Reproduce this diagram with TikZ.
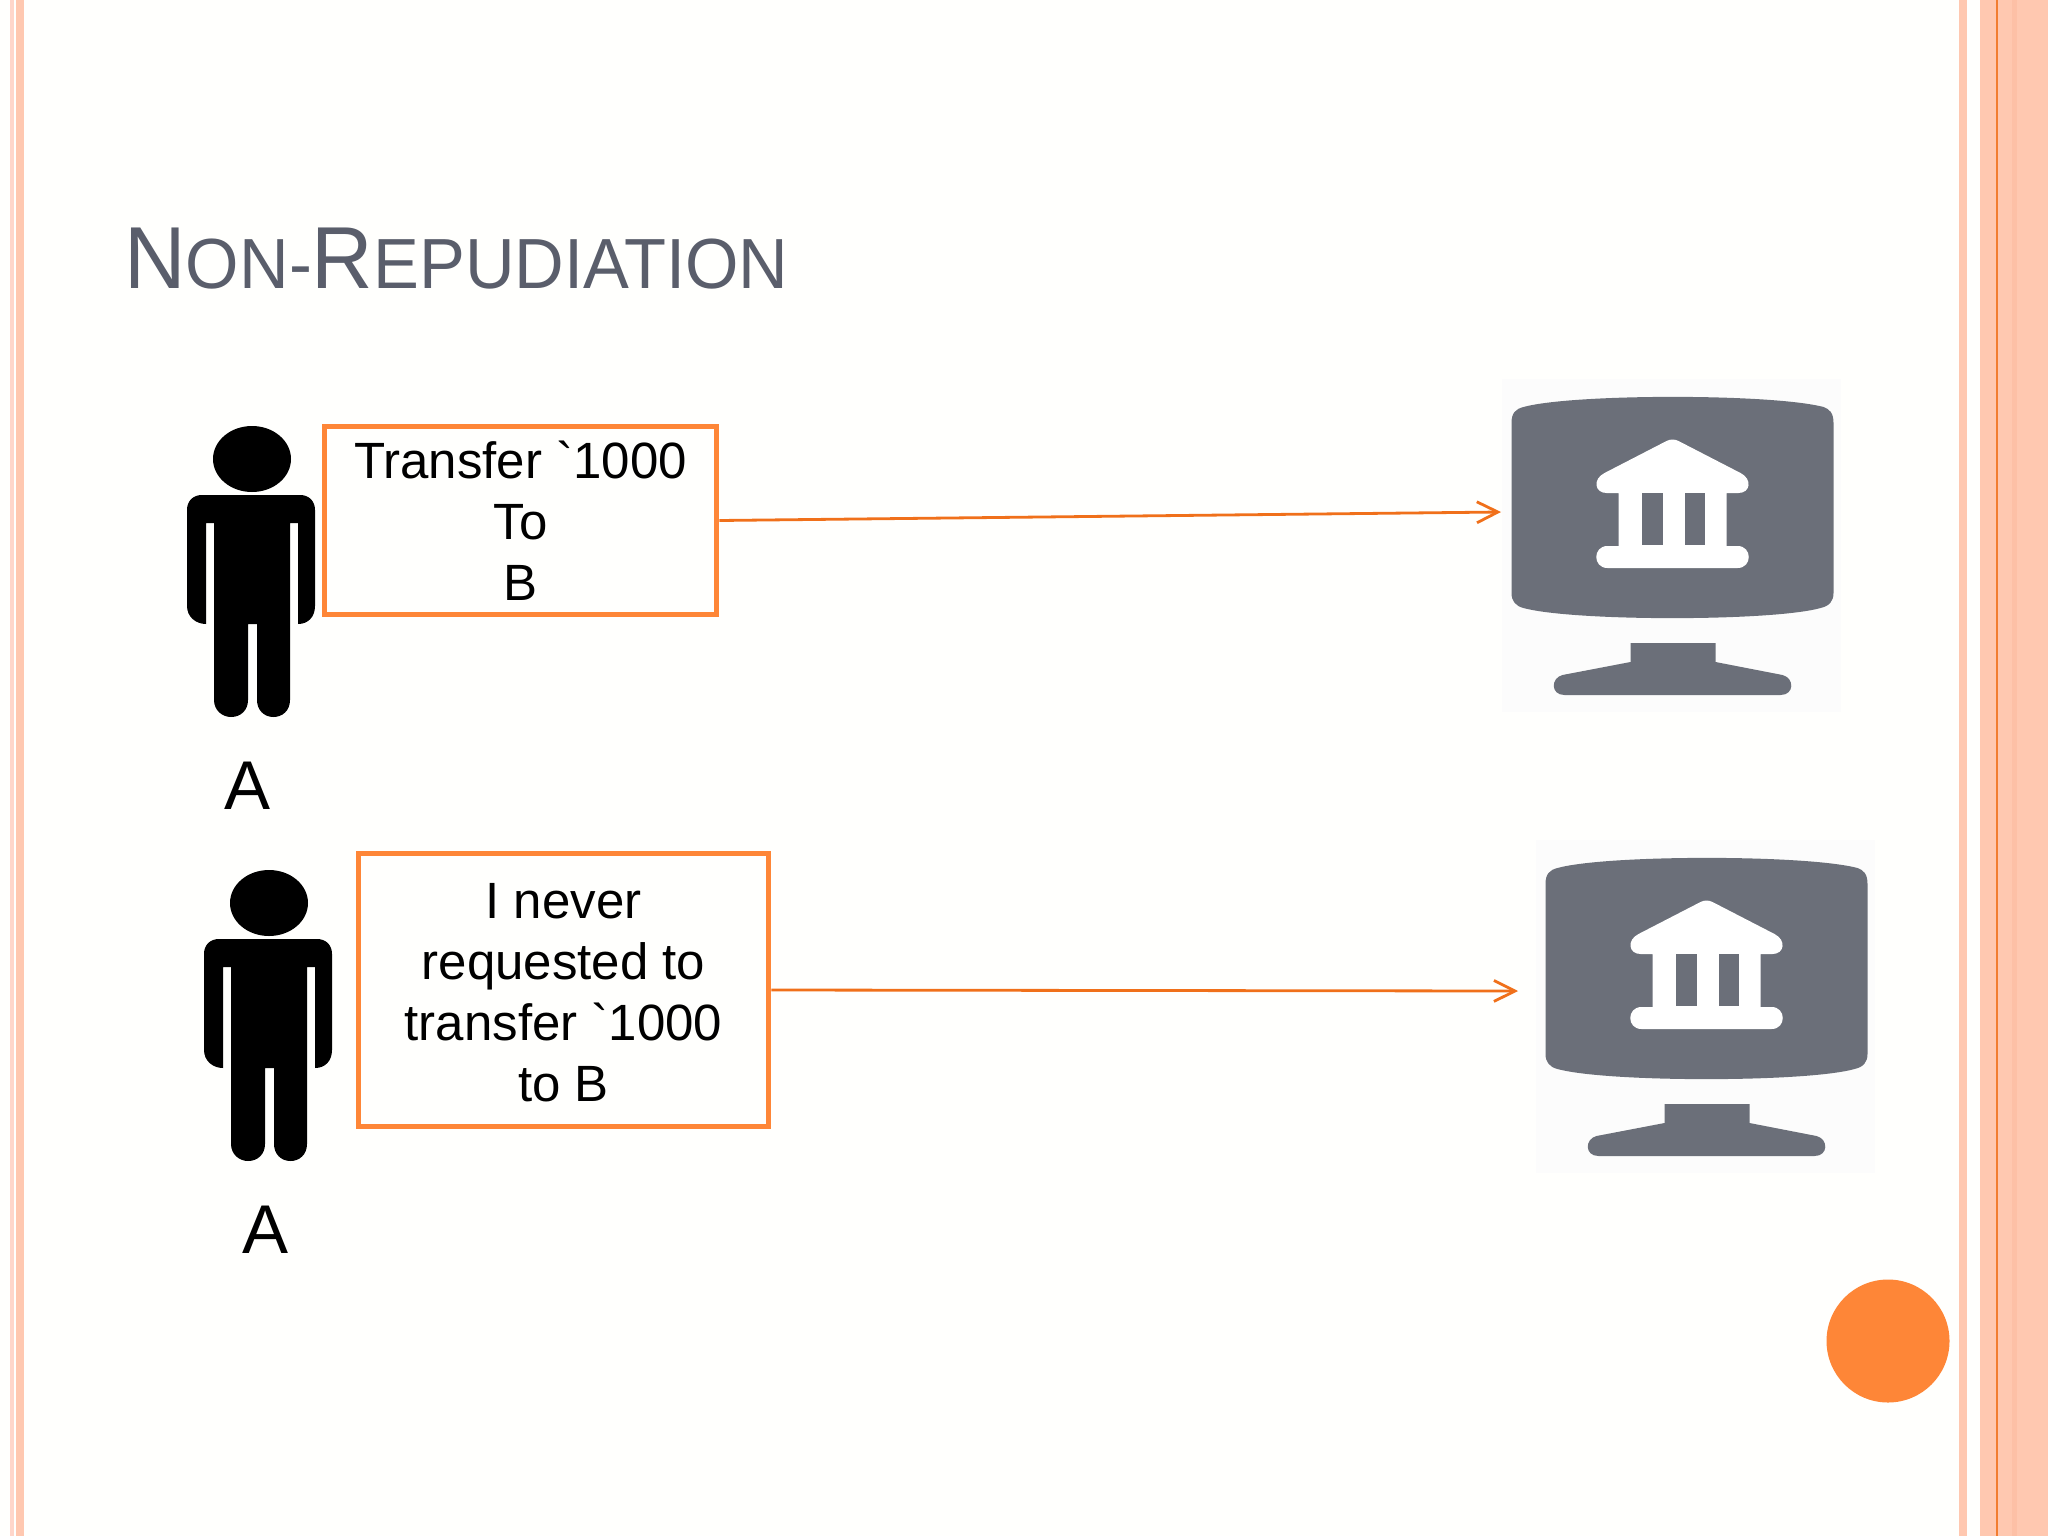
\documentclass[tikz,border=0pt]{standalone}
\usepackage{fontspec}
\newfontfamily\lib{Liberation Sans}
\usetikzlibrary{arrows.meta}
\definecolor{slidebg}{HTML}{FFFFFD}
\definecolor{salmon}{HTML}{FFC8B0}
\definecolor{palesalmon}{HTML}{FFD6CA}
\definecolor{bandsalmon}{HTML}{FDC0A6}
\definecolor{accent}{HTML}{FE8637}
\definecolor{arrowline}{HTML}{F0701A}
\definecolor{titlegray}{HTML}{5A5E6B}
\definecolor{screen}{HTML}{6B6F79}
\definecolor{iconbg}{HTML}{FCFCFC}
\tikzset{
  x=0.5pt,y=-0.5pt,
  msgbox/.style={draw=accent,line width=2.8pt,fill=slidebg,inner sep=0pt},
  msgtext/.style={align=center,inner sep=0pt,font=\lib\fontsize{25.5}{30.6}\selectfont,text=black},
  namelabel/.style={font=\lib\fontsize{34.5}{40}\selectfont,text=black,anchor=base,inner sep=0pt},
  link/.style={draw=arrowline,line width=1.4pt,-{Straight Barb[length=10.5pt,width=10.5pt,line width=1.4pt]}},
  person/.pic={
    \fill[black] (0,0) ellipse [x radius=39,y radius=33];
    \fill[black] (-50,36) -- (48,36) .. controls (57,36) and (63,42) .. (63,51)
      -- (63,147) .. controls (63,158) and (56,165) .. (46,165)
      -- (46,64) -- (38,64) -- (38,241)
      .. controls (38,252) and (30,258) .. (21.5,258)
      .. controls (12,258) and (5,251) .. (5,241)
      -- (5,165) -- (-4,165) -- (-4,241)
      .. controls (-4,251) and (-11,258) .. (-21,258)
      .. controls (-30,258) and (-38,251) .. (-38,241)
      -- (-38,64) -- (-46,64) -- (-46,165)
      .. controls (-56,165) and (-65,158) .. (-65,147)
      -- (-65,51) .. controls (-65,42) and (-59,36) .. (-50,36) -- cycle;
  },
  bankscreen/.pic={
    \fill[iconbg] (-171,-128) rectangle (168,205);
    \fill[screen] (-161,-84) .. controls (-161,-94) and (-157,-98) .. (-149,-100)
      .. controls (-100,-113.5) and (100,-113.5) .. (151,-100)
      .. controls (157,-98) and (161,-94) .. (161,-84)
      -- (161,86) .. controls (161,94) and (157,99) .. (148,101)
      .. controls (100,114.5) and (-100,114.5) .. (-149,101)
      .. controls (-157,99) and (-161,94) .. (-161,86) -- cycle;
    \fill[white] (-6,-66) .. controls (-2,-68) and (2,-68) .. (6,-66)
      -- (68,-34) .. controls (80,-28) and (78,-14) .. (66,-14)
      -- (54,-14) -- (54,40) -- (-54,40) -- (-54,-14) -- (-66,-14)
      .. controls (-78,-14) and (-80,-28) .. (-68,-34) -- cycle;
    \fill[white] (-65,39) -- (65,39) .. controls (80,39) and (80,61) .. (65,61)
      -- (-65,61) .. controls (-80,61) and (-80,39) .. (-65,39) -- cycle;
    \fill[screen] (-31,-14) rectangle (-10,38);
    \fill[screen] (12,-14) rectangle (32,38);
    \fill[screen] (-42,136) -- (43,136) -- (43,155) -- (110,168)
      .. controls (122,171) and (122,188) .. (108,188) -- (-108,188)
      .. controls (-122,188) and (-122,171) .. (-110,168) -- (-42,155) -- cycle;
  }
}
\begin{document}
\begin{tikzpicture}
\useasboundingbox (0,0) rectangle (2048,1536);
% slide background and side stripes
\fill[slidebg] (0,0) rectangle (2048,1536);
\fill[palesalmon] (10,0) rectangle (14,1536);
\fill[salmon] (16,0) rectangle (24,1536);
\fill[salmon] (1959,0) rectangle (1967,1536);
\fill[salmon] (1980,0) rectangle (2048,1536);
\fill[bandsalmon] (2012,0) rectangle (2017,1536);
\fill[arrowline!85!salmon] (1996,0) rectangle (1998,1536);
\fill[accent] (1888,1341) circle [radius=61.5];
% title
\node[anchor=base west,inner sep=0pt,text=titlegray] (title) at (124,288)
  {\scalebox{0.968}[1]{\lib\fontsize{44}{50}\selectfont N\fontsize{35.5}{50}\selectfont ON-\fontsize{44}{50}\selectfont R\fontsize{35.5}{50}\selectfont EPUDIATION}};
% people
\pic (personA) at (252,459) {person};
\pic (personB) at (269,903) {person};
\node[namelabel] (labelA) at (248,809.5) {A};
\node[namelabel] (labelB) at (266,1253.5) {A};
% bank monitors
\pic (bankA) at (1672.5,507) {bankscreen};
\pic (bankB) at (1706.5,968) {bankscreen};
% messages
\node[msgbox,minimum width=196pt,minimum height=94pt] (box1) at (520.5,520.5) {};
\node[msgtext] (text1) at (box1.center) {Transfer `1000\\To\\B};
\node[msgbox,minimum width=205pt,minimum height=136.5pt] (box2) at (563.5,990) {};
\node[msgtext] (text2) at (563.5,992.6) {I never\\requested to\\transfer `1000\\to B};
\coordinate (tip1) at (1501,512);
\coordinate (tip2) at (1518,991);
\draw[link] (box1.east) -- (tip1);
\draw[link] (box2.east) -- (tip2);
\end{tikzpicture}
\end{document}
